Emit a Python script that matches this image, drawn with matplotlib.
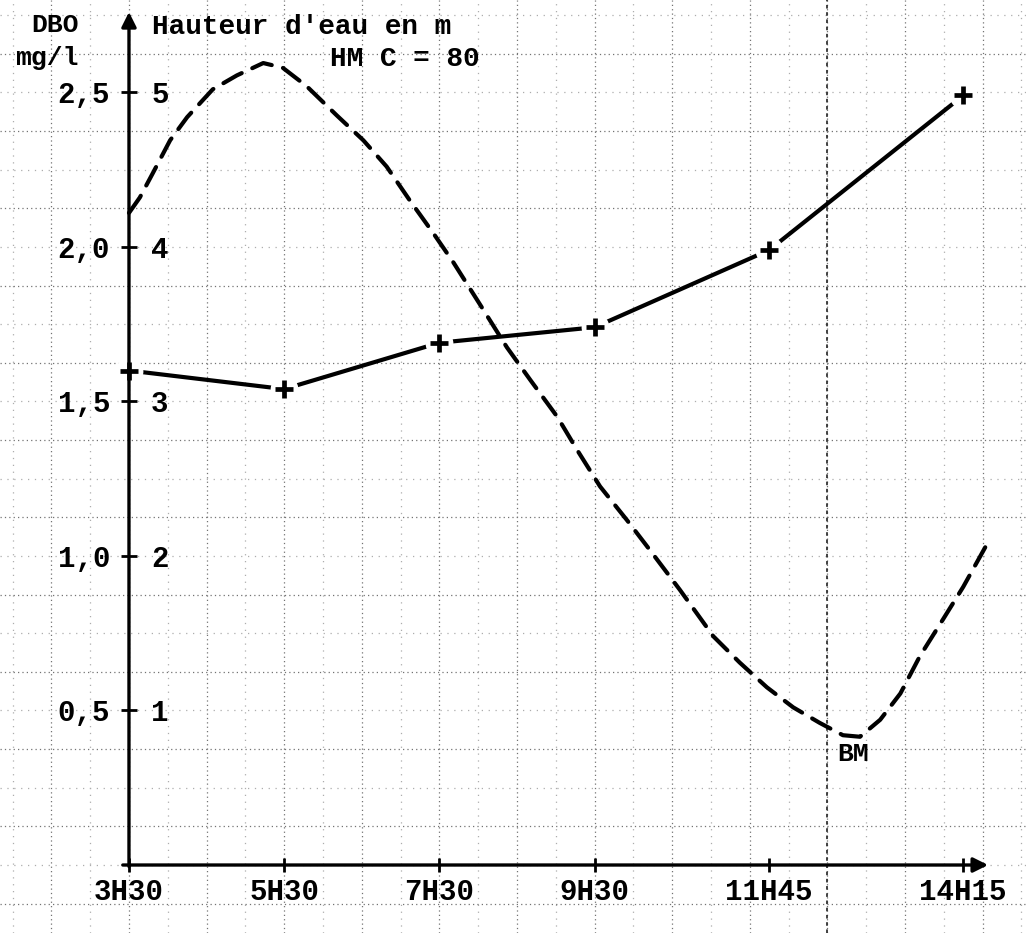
import numpy as np
import matplotlib
matplotlib.use("Agg")
import matplotlib.pyplot as plt

# Sampling times (decimal hours) and tick labels
tick_hours = [3.5, 5.5, 7.5, 9.5, 11.75, 14.25]
tick_labels = ["3H30", "5H30", "7H30", "9H30", "11H45", "14H15"]

# DBO (mg/l) measured at each sampling time
dbo_hours = [3.5, 5.5, 7.5, 9.5, 11.75, 14.25]
dbo_values = [1.60, 1.54, 1.69, 1.74, 1.99, 2.49]

# Water height (m) over the tide
water_hours = [3.5, 3.64, 3.81, 4.03, 4.25, 4.58, 4.89, 5.23, 5.48, 5.79,
               6.18, 6.52, 6.82, 7.12, 7.42, 7.68, 8.02, 8.37, 8.67, 9.02,
               9.27, 9.57, 9.92, 10.21, 10.6, 11.03, 11.37, 11.72, 12.06,
               12.4, 12.7, 12.92, 13.18, 13.44, 13.69, 13.99, 14.25, 14.56]
water_height = [4.22, 4.32, 4.48, 4.69, 4.84, 5.02, 5.11, 5.19, 5.16, 5.04,
                4.85, 4.69, 4.52, 4.30, 4.09, 3.90, 3.63, 3.35, 3.14, 2.90,
                2.69, 2.45, 2.23, 2.04, 1.78, 1.48, 1.31, 1.15, 1.02,
                0.92, 0.84, 0.83, 0.94, 1.11, 1.35, 1.59, 1.80, 2.08]
low_water_hour, low_water_height = 12.92, 0.83

dbo_ticks = [0.5, 1.0, 1.5, 2.0, 2.5]
dbo_tick_labels = ["0,5", "1,0", "1,5", "2,0", "2,5"]
height_ticks = [1, 2, 3, 4, 5]
height_tick_labels = ["1", "2", "3", "4", "5"]

FONT = ["Liberation Mono", "DejaVu Sans Mono"]
plt.rcParams["font.family"] = FONT

fig = plt.figure(figsize=(10.26, 9.33), dpi=100)
ax = fig.add_axes([0, 0, 1, 1])
ax.set_xlim(1.838, 15.059)
ax.set_ylim(-0.220, 2.799)
for s in ax.spines.values():
    s.set_visible(False)

# graph-paper background
for t in np.arange(2.0, 15.01, 0.5):
    heavy = abs((t - 3.5) % 1.0) < 1e-6
    ax.axvline(t, color="0.45" if heavy else "0.68", lw=0.9,
               ls=(0, (1, 2.5)) if heavy else (0, (1, 4.5)), zorder=1)
for v in np.arange(-0.125, 2.80, 0.125):
    heavy = abs((v - 0.125) % 0.25) < 1e-6
    ax.axhline(v, color="0.45" if heavy else "0.68", lw=0.9,
               ls=(0, (1, 2.5)) if heavy else (0, (1, 4.5)), zorder=1)
ax.axvline(12.5, color="0.2", lw=1.3, ls=(0, (2, 2)), zorder=1)

# axes drawn as arrows
ax.annotate("", xy=(3.5, 2.76), xytext=(3.5, -0.005),
            arrowprops=dict(arrowstyle="-|>", lw=2.4, color="black",
                            mutation_scale=22, shrinkA=0, shrinkB=0), zorder=5)
ax.annotate("", xy=(14.57, 0.0), xytext=(3.42, 0.0),
            arrowprops=dict(arrowstyle="-|>", lw=2.4, color="black",
                            mutation_scale=22, shrinkA=0, shrinkB=0), zorder=5)

# DBO ticks on the left of the vertical axis
ax.spines["left"].set_position(("data", 3.5))
ax.spines["bottom"].set_position(("data", 0.0))
ax.set_yticks(dbo_ticks)
ax.set_yticklabels(dbo_tick_labels)
ax.tick_params(axis="y", direction="inout", length=11, width=2, pad=8,
               labelsize=21, colors="black")
ax.set_xticks(tick_hours)
ax.set_xticklabels(tick_labels)
ax.tick_params(axis="x", direction="inout", length=10, width=2, pad=4,
               labelsize=21, colors="black")
for lab in ax.get_xticklabels() + ax.get_yticklabels():
    lab.set_fontweight("bold")

# DBO series: solid line with crosses, broken around each point
ax.plot(dbo_hours, dbo_values, color="black", lw=3.0, solid_capstyle="round",
        zorder=3)
ax.plot(dbo_hours, dbo_values, ls="none", marker="o", markersize=20,
        markerfacecolor="white", markeredgecolor="none", zorder=4)
ax.plot(dbo_hours, dbo_values, ls="none", marker="+", markersize=13,
        markeredgewidth=3.4, color="black", zorder=6)

# Water height on a second scale sharing the vertical axis
ax2 = ax.twinx()
ax2.set_ylim(-0.440, 5.598)
for s in ax2.spines.values():
    s.set_visible(False)
ax2.spines["right"].set_position(("data", 3.5))
ax2.set_yticks(height_ticks)
ax2.set_yticklabels(height_tick_labels)
ax2.tick_params(axis="y", direction="out", length=0, pad=16, labelsize=21,
                colors="black")
for lab in ax2.get_yticklabels():
    lab.set_fontweight("bold")

ax2.plot(water_hours, water_height, color="black", lw=3.0,
         ls=(0, (5.0, 2.8)), dash_capstyle="round", zorder=3)
ax2.annotate("BM", xy=(low_water_hour, low_water_height), xytext=(-5, -4),
             textcoords="offset points", ha="center", va="top",
             fontsize=19, fontweight="bold", family=FONT)

# headings
W, H = 1026, 933
def px(x, y):
    return x / W, 1 - y / H

fig.text(*px(79, 25), "DBO", ha="right", va="center", fontsize=19,
         fontweight="bold")
fig.text(*px(79, 58), "mg/l", ha="right", va="center", fontsize=19,
         fontweight="bold")
fig.text(*px(152, 27), "Hauteur d'eau en m", ha="left", va="center",
         fontsize=20, fontweight="bold")
fig.text(*px(330, 59), "HM C = 80", ha="left", va="center", fontsize=20,
         fontweight="bold")

fig.savefig("out.png", dpi=100, facecolor="white")
